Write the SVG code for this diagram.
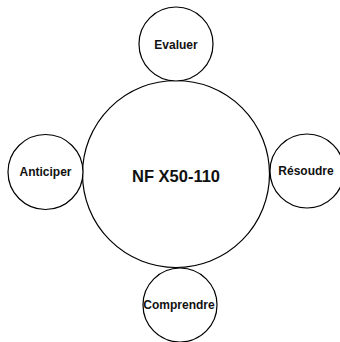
<svg xmlns="http://www.w3.org/2000/svg" width="340" height="342" viewBox="0 0 340 342">
<style>
.c{fill:#fff;stroke:#000;stroke-width:1.2}
.t{font-family:"Liberation Sans",Arial,sans-serif;font-weight:bold;font-size:12px;fill:#111;text-anchor:middle}
.m{font-size:16.5px}
</style>
<rect width="340" height="342" fill="#fff"/>
<g id="connectors"></g>
<g id="main"><circle class="c" cx="176" cy="174" r="93.5"/><text class="t m" x="176" y="182">NF X50-110</text></g>
<g id="evaluer"><circle class="c" cx="176" cy="44" r="37"/><text class="t" x="176" y="49">Evaluer</text></g>
<g id="anticiper"><circle class="c" cx="45.5" cy="172" r="37.5"/><text class="t" x="45.5" y="176">Anticiper</text></g>
<g id="resoudre"><circle class="c" cx="307" cy="171" r="37"/><text class="t" x="306" y="175">Résoudre</text></g>
<g id="comprendre"><circle class="c" cx="180" cy="305" r="37"/><text class="t" x="179" y="309">Comprendre</text></g>
</svg>
